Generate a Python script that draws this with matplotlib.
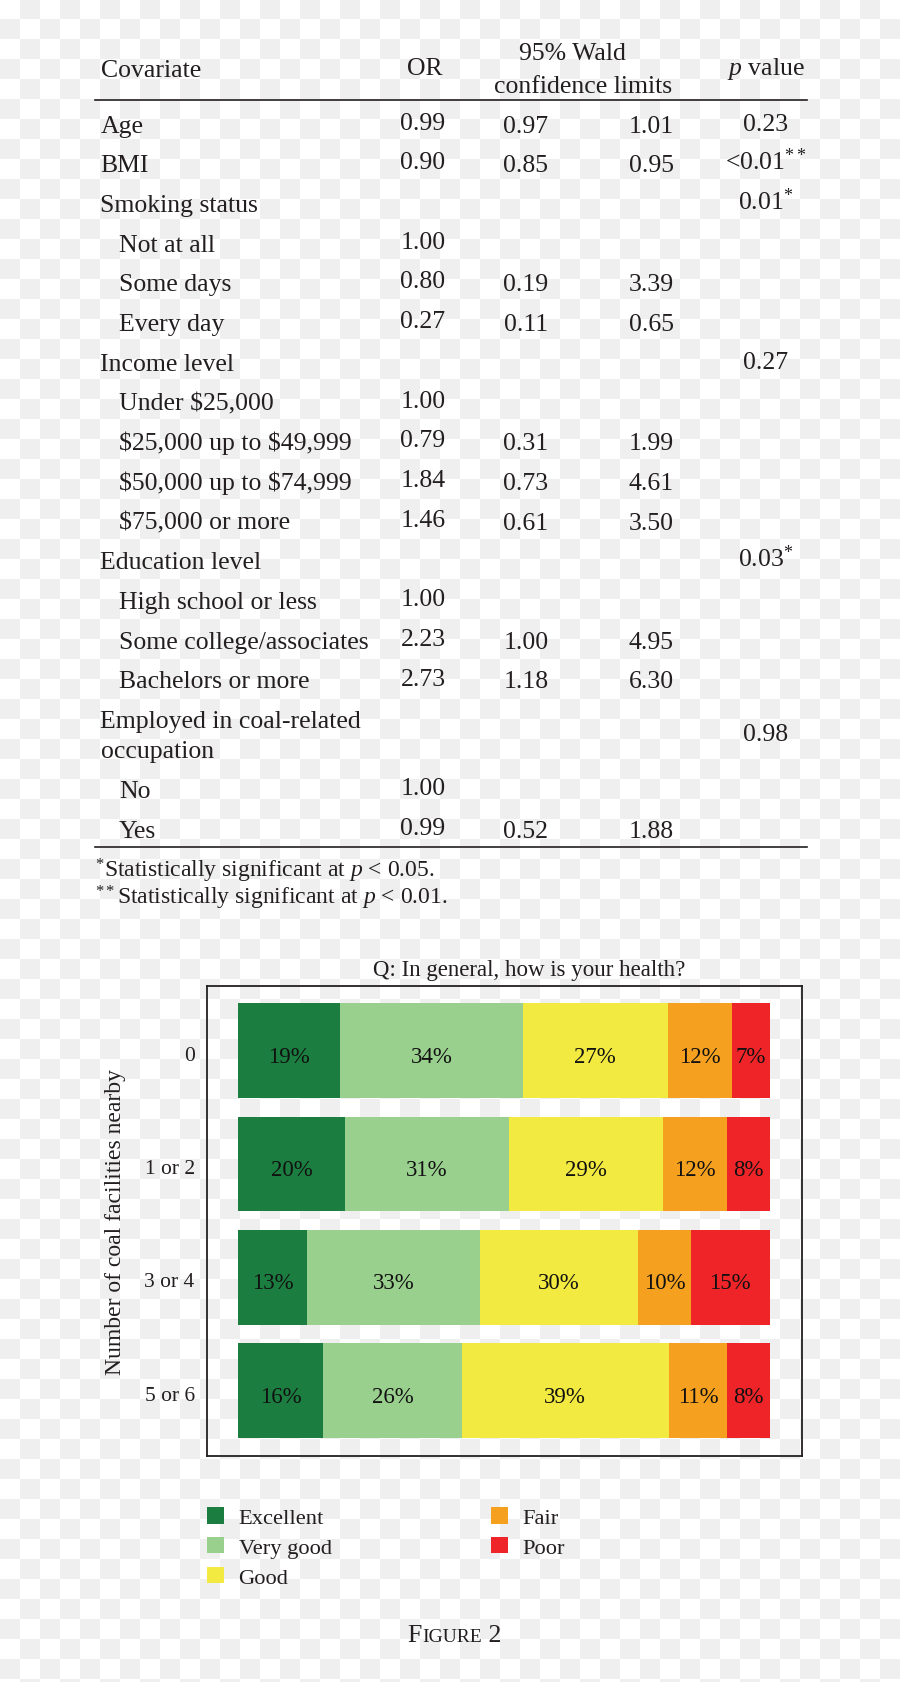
import numpy as np
import matplotlib
matplotlib.use("Agg")
from matplotlib import pyplot as plt
from matplotlib.transforms import ScaledTranslation

plt.rcParams['font.family'] = ['Liberation Serif', 'DejaVu Serif']
plt.rcParams['mathtext.fontset'] = 'custom'
plt.rcParams['mathtext.rm'] = 'Liberation Serif'
plt.rcParams['mathtext.it'] = 'Liberation Serif:italic'

# ---- table data ----
covariates = ["Age", "BMI", "Smoking status", "Not at all", "Some days", "Every day",
              "Income level", "Under $25,000", "$25,000 up to $49,999",
              "$50,000 up to $74,999", "$75,000 or more", "Education level",
              "High school or less", "Some college/associates", "Bachelors or more",
              "Employed in coal-related\noccupation", "No", "Yes"]
indented = [0, 0, 0, 1, 1, 1, 0, 1, 1, 1, 1, 0, 1, 1, 1, 0, 1, 1]
odds_ratio = [0.99, 0.90, np.nan, 1.00, 0.80, 0.27, np.nan, 1.00, 0.79, 1.84, 1.46,
              np.nan, 1.00, 2.23, 2.73, np.nan, 1.00, 0.99]
ci_lower = [0.97, 0.85, np.nan, np.nan, 0.19, 0.11, np.nan, np.nan, 0.31, 0.73, 0.61,
            np.nan, np.nan, 1.00, 1.18, np.nan, np.nan, 0.52]
ci_upper = [1.01, 0.95, np.nan, np.nan, 3.39, 0.65, np.nan, np.nan, 1.99, 4.61, 3.50,
            np.nan, np.nan, 4.95, 6.30, np.nan, np.nan, 1.88]
p_values = ["0.23", "<0.01**", "0.01*", "", "", "", "0.27", "", "", "", "", "0.03*",
            "", "", "", "0.98", "", ""]
footnotes = [r"$^{*}$Statistically significant at $p$ < 0.05.",
             r"$^{**}$Statistically significant at $p$ < 0.01."]

# ---- chart data ----
groups = ["0", "1 or 2", "3 or 4", "5 or 6"]
ratings = ["Excellent", "Very good", "Good", "Fair", "Poor"]
pct = np.array([[19, 34, 27, 12, 7],
                [20, 31, 29, 12, 8],
                [13, 33, 30, 10, 15],
                [16, 26, 39, 11, 8]])
colors = ["#1b7d40", "#9ad08e", "#f2ea40", "#f5a11f", "#ee2428"]

W, H = 900, 1683
fig = plt.figure(figsize=(W / 100, H / 100), dpi=100)

# background (checkerboard) + pixel-coordinate layout axes
bg = fig.add_axes([0, 0, 1, 1])
ys, xs = np.mgrid[0:H, 0:W]
board = np.where((xs // 20 + ys // 20) % 2 == 1, 0.937, 1.0)
bg.imshow(board, cmap="gray", vmin=0, vmax=1, extent=(0, W, H, 0),
          interpolation="nearest", aspect="auto")
bg.set_xlim(0, W)
bg.set_ylim(H, 0)
bg.axis("off")

fs = 18.5
ink = "#231f20"
x_lab, x_ind = 100.5, 118.8
x_or, x_lo, x_hi, x_p = 423, 526, 651, 766

# header
bg.text(x_lab, 76.7, "Covariate", fontsize=fs, va="baseline", color=ink)
bg.text(x_or + 2, 75, "OR", fontsize=fs, va="baseline", ha="center", color=ink)
bg.text(572, 60, "95% Wald", fontsize=fs, va="baseline", ha="center", color=ink)
bg.text(583, 92.7, "confidence limits", fontsize=fs, va="baseline", ha="center",
        color=ink)
bg.text(x_p, 75, r"$p$ value", fontsize=fs, va="baseline", ha="center", color=ink)
bg.plot([94.7, 806.5], [101, 101], color=ink, lw=1.2)

y = 132.7
step = 39.7
line_gap = 30.0
for i, lab in enumerate(covariates):
    lines = lab.split("\n")
    x0 = x_ind if indented[i] else x_lab
    for k, ln in enumerate(lines):
        bg.text(x0, y + k * line_gap, ln, fontsize=fs, va="baseline",
                parse_math=False, color=ink)
    ymid = y + (len(lines) - 1) * line_gap / 2
    if not np.isnan(odds_ratio[i]):
        bg.text(x_or, y - 3, f"{odds_ratio[i]:.2f}", fontsize=fs, va="baseline",
                ha="center", color=ink)
    if not np.isnan(ci_lower[i]):
        bg.text(x_lo, y, f"{ci_lower[i]:.2f}", fontsize=fs, va="baseline",
                ha="center", color=ink)
        bg.text(x_hi, y, f"{ci_upper[i]:.2f}", fontsize=fs, va="baseline",
                ha="center", color=ink)
    if p_values[i]:
        base = p_values[i].rstrip("*")
        stars = p_values[i][len(base):]
        s = base + (r"$^{" + stars + "}$" if stars else "")
        bg.text(x_p, ymid - 2, s, fontsize=fs, va="baseline", ha="center", color=ink)
    y += (len(lines) - 1) * line_gap + step

bg.plot([94.7, 806.5], [847.7, 847.7], color=ink, lw=1.2)
bg.text(94.7, 877.3, footnotes[0], fontsize=17, va="baseline", color=ink)
bg.text(94.7, 905, footnotes[1], fontsize=17, va="baseline", color=ink)

# ---- stacked bar chart ----
fl, fr, ft, fb = 207.2, 802.4, 987.3, 1456.7
ax = fig.add_axes([fl / W, 1 - fb / H, (fr - fl) / W, (fb - ft) / H])
ax.set_facecolor("none")
shares = pct / pct.sum(axis=1, keepdims=True)
ypos = np.arange(len(groups))
left = np.zeros(len(groups))
for j, r in enumerate(ratings):
    ax.barh(ypos, shares[:, j], left=left, height=0.836, color=colors[j], label=r)
    for k in range(len(groups)):
        ax.text(left[k] + shares[k, j] / 2, ypos[k] + 0.097, f"{pct[k, j]}%",
                fontsize=16.5, ha="center", va="baseline", color="#111111")
    left += shares[:, j]

ax.set_xlim(-31.2 / 531.2, 1 + 32.8 / 531.2)
ax.set_ylim(3.574, -0.568)
ax.set_xticks([])
ax.set_yticks(ypos)
ax.set_yticklabels(groups, fontsize=15.5, color=ink)
ax.tick_params(axis="y", length=0, pad=9)
shift = ScaledTranslation(0, -2 / 100, fig.dpi_scale_trans)
for lbl in ax.get_yticklabels():
    lbl.set_transform(lbl.get_transform() + shift)
for sp in ax.spines.values():
    sp.set_linewidth(1.3)
    sp.set_color(ink)
ax.text((115.5 - fl) / (fr - fl), 0.5, "Number of coal facilities nearby",
        transform=ax.transAxes, rotation=90, fontsize=17, ha="center",
        va="center", color=ink)
ax.text((528.8 - fl) / (fr - fl), (fb - 976) / (fb - ft),
        "Q: In general, how is your health?", transform=ax.transAxes,
        fontsize=16.5, ha="center", va="baseline", color=ink)

h, l = ax.get_legend_handles_labels()
leg = ax.legend(h, l, loc="upper left", bbox_to_anchor=(207.3 / W, 1 - 1508 / H),
                bbox_transform=fig.transFigure, ncol=2, frameon=False, fontsize=16.2,
                borderpad=0, handlelength=0.755, handleheight=0.755,
                handletextpad=0.635, labelspacing=0.39, columnspacing=7.1,
                borderaxespad=0)
for t in leg.get_texts():
    t.set_color(ink)

# "Figure 2" in small caps
t1 = bg.text(0, 1642.3, "F", fontsize=18.5, va="baseline", color=ink)
t2 = bg.text(0, 1642.3, "IGURE", fontsize=14, va="baseline", color=ink)
t3 = bg.text(0, 1642.3, " 2", fontsize=18.5, va="baseline", color=ink)
fig.canvas.draw()
rend = fig.canvas.get_renderer()
ws = [t.get_window_extent(rend).width for t in (t1, t2, t3)]
x = 454.3 - sum(ws) / 2
for t, w in zip((t1, t2, t3), ws):
    t.set_x(x)
    x += w

fig.savefig("out.png", dpi=100)
